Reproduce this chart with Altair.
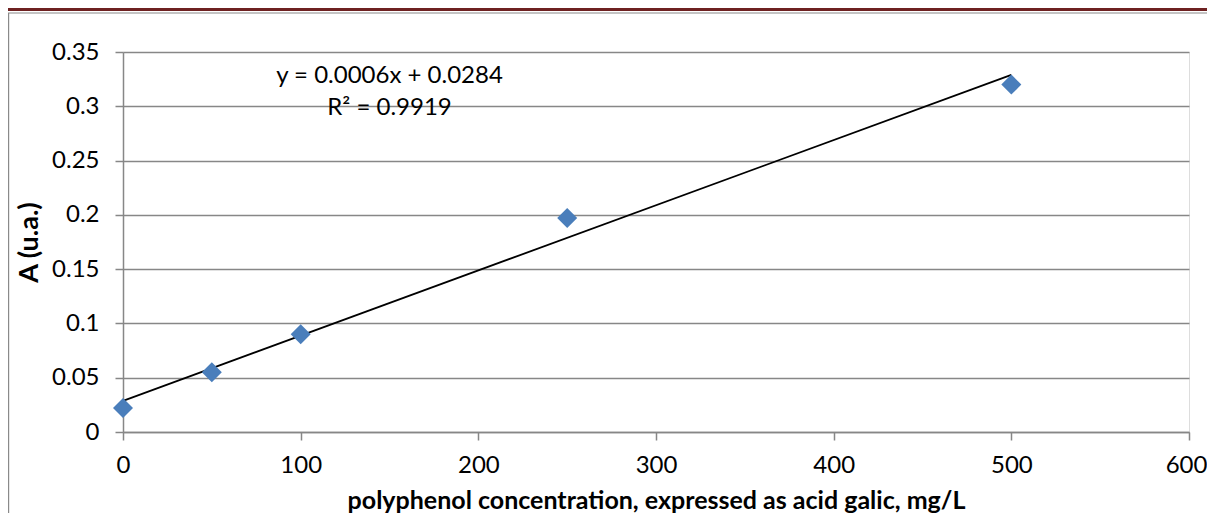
import altair as alt
import pandas as pd

# Data
concentration = [0, 50, 100, 250, 500]
absorbance = [0.022, 0.055, 0.090, 0.197, 0.320]
equation_lines = ["y = 0.0006x + 0.0284", "R\u00b2 = 0.9919"]
x_ticks = [0, 100, 200, 300, 400, 500, 600]
y_ticks = [0, 0.05, 0.1, 0.15, 0.2, 0.25, 0.3, 0.35]

df = pd.DataFrame({"x": concentration, "y": absorbance})

FONT = "Lato"
GRID = "#878787"
W, H = 1066, 380

x_scale = alt.Scale(domain=[0, 600], nice=False, zero=False)
y_scale = alt.Scale(domain=[0, 0.35], nice=False, zero=False)

x_enc = alt.X(
    "x:Q",
    scale=x_scale,
    axis=alt.Axis(
        values=x_ticks,
        format="d",
        title="polyphenol concentration, expressed as acid galic, mg/L",
        grid=False,
        domainColor=GRID,
        domainWidth=1.5,
        tickColor=GRID,
        tickWidth=1.5,
        tickSize=8,
        labelFont=FONT,
        labelFontSize=24,
        labelColor="#000000",
        labelPadding=13,
        labelFlush=False,
        labelOffset={"condition": {"test": "datum.value == 600", "value": -3}, "value": 0},
        titleFont=FONT,
        titleFontSize=25,
        titleFontWeight="bold",
        titleColor="#000000",
        titleX=W / 2,
        titleY=76,
        titleAlign="center",
        titleBaseline="alphabetic",
    ),
)
y_enc = alt.Y(
    "y:Q",
    scale=y_scale,
    axis=alt.Axis(
        values=y_ticks,
        format=".2~f",
        title="A (u.a.)",
        grid=True,
        gridColor=GRID,
        gridWidth=1.5,
        domainColor=GRID,
        domainWidth=1.5,
        tickColor=GRID,
        tickWidth=1.5,
        tickSize=8,
        labelFont=FONT,
        labelFontSize=24,
        labelColor="#000000",
        labelPadding=16,
        labelFlush=False,
        titleFont=FONT,
        titleFontSize=27,
        titleFontWeight="bold",
        titleColor="#000000",
        titleX=-86,
        titleY=H / 2,
        titleAngle=270,
        titleAlign="center",
        titleBaseline="alphabetic",
    ),
)

base = alt.Chart(df)

points = base.mark_point(
    shape="diamond", filled=True, size=400, color="#4A7EBB", opacity=1
).encode(x=x_enc, y=y_enc)

trend = base.transform_regression(
    "x", "y", extent=[0, 500]
).mark_line(color="#000000", strokeWidth=1.8).encode(
    x=alt.X("x:Q", scale=x_scale), y=alt.Y("y:Q", scale=y_scale)
)

one = alt.Chart(pd.DataFrame({"a": [0]}))

eq_text = one.mark_text(
    font=FONT, fontSize=24, color="#000000", align="center",
    baseline="alphabetic", lineHeight=32, text=equation_lines,
).encode(x=alt.value(266.5), y=alt.value(31))

border_top = one.mark_rule(color="#8a8a8a", strokeWidth=1.2).encode(
    x=alt.value(-115), x2=alt.value(1110), y=alt.value(-39)
)
border_left = one.mark_rule(color="#8a8a8a", strokeWidth=1.2).encode(
    x=alt.value(-114.4), y=alt.value(-39), y2=alt.value(480)
)
red_top = one.mark_rule(color="#6E2121", strokeWidth=3).encode(
    x=alt.value(-120), x2=alt.value(1110), y=alt.value(-42.5)
)

chart = alt.layer(red_top, border_top, border_left, trend, points, eq_text).properties(
    width=W,
    height=H,
    autosize=alt.AutoSizeParams(type="none"),
    padding={"left": 115, "top": 44, "right": 18, "bottom": 81},
).configure_view(stroke=None).configure(background="#ffffff")

chart.save("out.html", embed_options={"renderer": "svg", "actions": False})
